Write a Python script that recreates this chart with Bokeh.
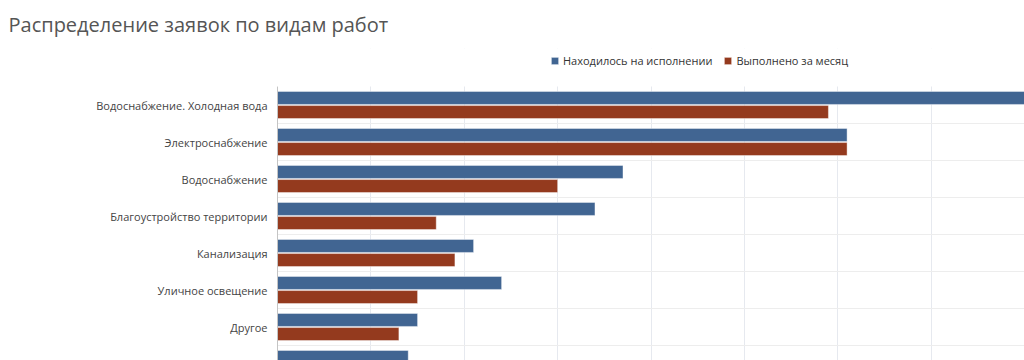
from bokeh.plotting import figure
from bokeh.models import (Range1d, FixedTicker, Legend, LegendItem,
                          ColumnDataSource, BoxAnnotation)
from bokeh.transform import dodge
from bokeh.embed import file_html
from bokeh.resources import INLINE

title_text = "Распределение заявок по видам работ"
series_names = ["Находилось на исполнении", "Выполнено за месяц"]
categories = [
    "Водоснабжение. Холодная вода",
    "Электроснабжение",
    "Водоснабжение",
    "Благоустройство территории",
    "Канализация",
    "Уличное освещение",
    "Другое",
    "",
]
in_progress = [80, 61, 37, 34, 21, 24, 15, 14]
completed = [59, 61, 30, 17, 19, 15, 13]
x_ticks = [0, 10, 20, 30, 40, 50, 60, 70, 80]

BLUE = "#416592"
RED = "#943a1e"

pos_b = list(range(len(in_progress)))
pos_r = list(range(len(completed)))
src_b = ColumnDataSource(dict(y=pos_b, v=in_progress))
src_r = ColumnDataSource(dict(y=pos_r, v=completed))

# frame: top 48, first band starts at 86, band height 37, bottom 360
p = figure(width=1024, height=360, output_backend="svg", toolbar_location=None,
           x_range=Range1d(0, 80),
           y_range=Range1d(-0.5 + 274 / 37, -0.5 - 38 / 37),
           min_border_left=277, min_border_right=0, min_border_bottom=0,
           min_border_top=48)

rb = p.hbar(y=dodge("y", -0.19), left=0, right="v", height=0.35, source=src_b,
            fill_color=BLUE, line_color="white", line_alpha=0.4, line_width=1)
rr = p.hbar(y=dodge("y", 0.19), left=0, right="v", height=0.35, source=src_r,
            fill_color=RED, line_color="white", line_alpha=0.4, line_width=1)

p.title.text = title_text
p.title.text_font = "Open Sans"
p.title.text_font_size = "20px"
p.title.text_font_style = "normal"
p.title.text_color = "#555555"
p.title.offset = -269
p.title.standoff = 18
p.title.vertical_align = "top"

# blank the area above the first band (header strip inside frame)
p.add_layout(BoxAnnotation(bottom=-0.5, fill_color="white", fill_alpha=1.0,
                           line_color=None))

legend = Legend(items=[LegendItem(label=series_names[0], renderers=[rb]),
                       LegendItem(label=series_names[1], renderers=[rr])],
                orientation="horizontal", glyph_width=9, glyph_height=9,
                label_height=12, label_text_font="Open Sans",
                label_text_font_size="11px", label_text_color="#333333",
                border_line_alpha=0, background_fill_alpha=0, padding=0,
                spacing=11, label_standoff=4, margin=0,
                location=(273, 292))
p.add_layout(legend, "center")

p.xaxis.visible = False
p.outline_line_color = None

p.yaxis.ticker = FixedTicker(ticks=list(range(len(categories))))
p.yaxis.major_label_overrides = {i: c for i, c in enumerate(categories)}
p.yaxis.bounds = (-0.5, len(categories) - 0.5)
p.yaxis.major_tick_line_color = None
p.yaxis.minor_tick_line_color = None
p.yaxis.axis_line_color = "#c4c4c4"
p.yaxis.major_label_text_font = "Open Sans"
p.yaxis.major_label_text_font_size = "11px"
p.yaxis.major_label_text_color = "#444444"
p.yaxis.major_label_standoff = 4

p.xgrid.ticker = FixedTicker(ticks=x_ticks)
p.xgrid.grid_line_color = "#e6e9ef"
p.ygrid.ticker = FixedTicker(ticks=[i + 0.5 for i in range(len(categories) - 1)])
p.ygrid.grid_line_color = "#ededed"

open("out.html", "w").write(file_html(p, INLINE))
